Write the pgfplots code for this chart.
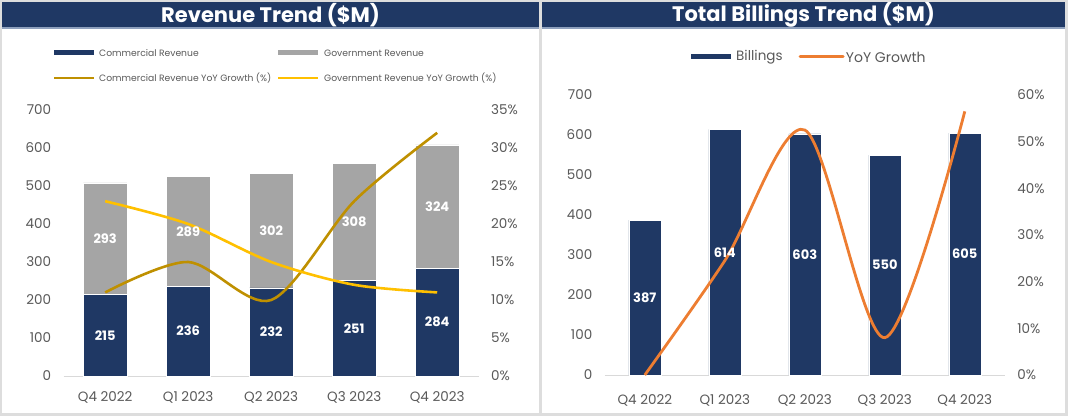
\documentclass[border=0pt]{standalone}
\usepackage{pgfplots}
\pgfplotsset{compat=1.18}
\usepackage{fontspec}
\setmainfont{Poppins}
\definecolor{navy}{HTML}{1F3864}
\definecolor{gov}{HTML}{A5A5A5}
\definecolor{cgold}{HTML}{BF9000}
\definecolor{ggold}{HTML}{FFC000}
\definecolor{orng}{HTML}{ED7D31}
\definecolor{tickc}{HTML}{595959}
\definecolor{framec}{HTML}{DDDDDD}
\definecolor{axline}{HTML}{D9D9D9}
\definecolor{barline}{HTML}{8EA0BD}
\pgfplotstableread{
x com gov
0 215 293
1 236 289
2 232 302
3 251 308
4 284 324
}\revtab
\pgfplotstableread{
x bill
0 387
1 614
2 603
3 550
4 605
}\billtab
\pgfplotsset{
  base/.style={scale only axis, xmin=-0.5, xmax=4.5, xtick={0,...,4},
    tick style={draw=none},
    ticklabel style={font=\fontsize{13.5}{15}\selectfont, text=tickc},
    xticklabel style={yshift=-12pt},
    /pgf/number format/assume math mode=true,
    clip=false},
  lefty/.style={yticklabel style={xshift=-9pt}},
  righty/.style={yticklabel style={xshift=9pt}},
  leftbar/.style={base, lefty, at={(63.7pt,40pt)}, anchor=south west, width=415pt, height=266pt,
    ymin=0, ymax=700, ytick={0,100,...,700},
    ybar stacked, bar width=43.4pt,
    axis x line*=bottom, axis y line*=left,
    x axis line style={draw=axline, line width=1pt, -},
    y axis line style={draw=none},
    xticklabels={Q4 2022,Q1 2023,Q2 2023,Q3 2023,Q4 2023}},
  rightbar/.style={base, lefty, at={(604.8pt,41pt)}, anchor=south west, width=400pt, height=280pt,
    ymin=0, ymax=700, ytick={0,100,...,700},
    ybar, bar width=32pt,
    axis x line*=bottom, axis y line*=left,
    x axis line style={draw=axline, line width=1pt, -},
    y axis line style={draw=none},
    xticklabels={Q4 2022,Q1 2023,Q2 2023,Q3 2023,Q4 2023}},
  barlabels/.style={
    visualization depends on=rawy \as \rawy,
    nodes near coords={\pgfmathprintnumber{\rawy}},
    every node near coord/.style={anchor=center, text=white,
      font=\bfseries\fontsize{13}{14}\selectfont, #1}},
}
\begin{document}
\begin{tikzpicture}[x=1pt,y=1pt]
\useasboundingbox (0,0) rectangle (1068,416);
\fill[framec] (0,0) rectangle (1068,416);
\fill[white] (2,3.3) rectangle (539.3,414);
\fill[white] (542,3.3) rectangle (1065,414);
\fill[navy] (2,388.7) rectangle (539.3,413.7);
\fill[navy] (542,388.7) rectangle (1065,413.7);
\fill[barline] (2,387.4) rectangle (539.3,388.7);
\fill[barline] (542,387.4) rectangle (1065,388.7);
\node[text=white, font=\bfseries\fontsize{21}{22}\selectfont] at (270.6,401) {Revenue Trend (\$M)};
\node[text=white, font=\bfseries\fontsize{21}{22}\selectfont] at (803.5,401) {Total Billings Trend (\$M)};

% left legend
\draw[navy, line width=5pt] (54,363) -- (94,363);
\node[anchor=west, text=tickc, font=\fontsize{9.2}{10}\selectfont, inner sep=0pt] at (99,363) {Commercial Revenue};
\draw[gov, line width=5pt] (278,363) -- (318,363);
\node[anchor=west, text=tickc, font=\fontsize{9.2}{10}\selectfont, inner sep=0pt] at (324,363) {Government Revenue};
\draw[cgold, line width=2pt] (54,338.3) -- (94,338.3);
\node[anchor=west, text=tickc, font=\fontsize{9.2}{10}\selectfont, inner sep=0pt] at (99,338.3) {Commercial Revenue YoY Growth (\%)};
\draw[ggold, line width=2pt] (278,338.3) -- (318,338.3);
\node[anchor=west, text=tickc, font=\fontsize{9.2}{10}\selectfont, inner sep=0pt] at (324,338.3) {Government Revenue YoY Growth (\%)};

% right legend
\draw[navy, line width=5pt] (691,359) -- (731,359);
\node[anchor=west, text=tickc, font=\fontsize{13.5}{14}\selectfont, inner sep=0pt] at (736,359) {Billings};
\draw[orng, line width=3pt, line cap=round] (800,359) -- (843,359);
\node[anchor=west, text=tickc, font=\fontsize{14}{14}\selectfont, inner sep=0pt] at (845.7,359) {YoY Growth};

% ---------- left chart ----------
\begin{axis}[leftbar]
\addplot[fill=navy, draw=white, line width=0.4pt] table[x=x, y=com] {\revtab};
\addplot[fill=gov, draw=white, line width=0.4pt] table[x=x, y=gov] {\revtab};
\end{axis}
\begin{axis}[base, righty, at={(63.7pt,40pt)}, anchor=south west, width=415pt, height=266pt,
  ymin=0, ymax=35, ytick={0,5,...,35},
  axis y line*=right, axis x line=none,
  y axis line style={draw=none},
  yticklabel={\pgfmathprintnumber{\tick}\%},
]
\addplot[cgold, line width=2.6pt, smooth] coordinates {(0,11) (1,15) (2,10) (3,23) (4,32)};
\addplot[ggold, line width=2.6pt, smooth] coordinates {(0,23) (1,20) (2,15) (3,12) (4,11)};
\end{axis}
% data labels on top of the lines
\begin{axis}[leftbar, hide axis, barlabels={}]
\addplot[fill=none, draw=none] table[x=x, y=com] {\revtab};
\addplot[fill=none, draw=none] table[x=x, y=gov] {\revtab};
\end{axis}

% ---------- right chart ----------
\begin{axis}[rightbar]
\addplot[fill=navy, draw=white, line width=0.4pt] table[x=x, y=bill] {\billtab};
\end{axis}
\begin{axis}[base, righty, at={(604.8pt,41pt)}, anchor=south west, width=400pt, height=280pt,
  ymin=0, ymax=60, ytick={0,10,...,60},
  axis y line*=right, axis x line=none,
  y axis line style={draw=none},
  yticklabel={\pgfmathprintnumber{\tick}\%},
]
\addplot[orng, line width=2.8pt, smooth] coordinates {(0,0) (1,24.5) (2,52.5) (3,8) (4,56.5)};
\end{axis}
\begin{axis}[rightbar, hide axis, barlabels={yshift={-0.2*\rawy}}]
\addplot[fill=none, draw=none] table[x=x, y=bill] {\billtab};
\end{axis}
\end{tikzpicture}
\end{document}
